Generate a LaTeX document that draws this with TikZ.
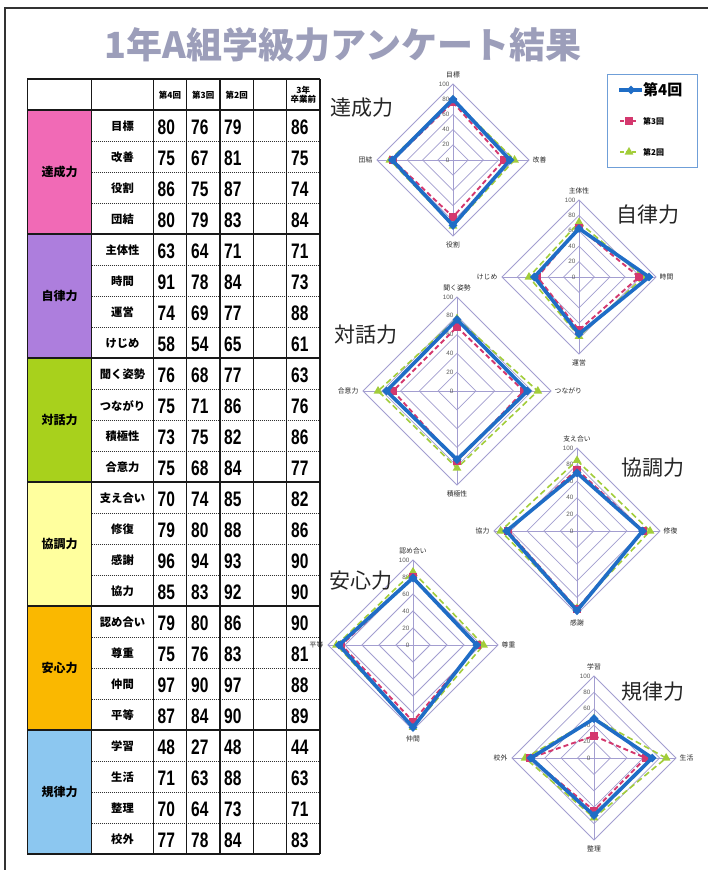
\documentclass[tikz,border=0pt]{standalone}
\usepackage{fontspec}
\newfontfamily\jp{Noto Sans CJK JP}
\newfontfamily\numf[FakeStretch=0.74]{Liberation Sans}
\newfontfamily\lsans{Liberation Sans}
\usetikzlibrary{shapes.geometric}
\definecolor{ttl}{HTML}{9C9EBA}
\definecolor{cpink}{HTML}{F16AB6}
\definecolor{cpurple}{HTML}{AD7EDD}
\definecolor{cgreen}{HTML}{A8D11C}
\definecolor{cyellow}{HTML}{FFFF9E}
\definecolor{corange}{HTML}{FAB800}
\definecolor{cblue}{HTML}{8CC7F0}
\definecolor{gridc}{HTML}{A39ED0}
\definecolor{s4}{HTML}{1F6DC6}
\definecolor{s3}{HTML}{D4386E}
\definecolor{s2}{HTML}{A2CD3A}
\definecolor{lgb}{HTML}{6F9FD8}
\tikzset{
  gridline/.style={draw=gridc, line width=0.75pt},
  scalelbl/.style={anchor=east, inner sep=0.5pt, font=\lsans\fontsize{6.3}{6.3}\selectfont, text=black!65},
  axlbl/.style={inner sep=0.5pt, font=\jp\fontsize{6.8}{6.8}\selectfont, text=black!85},
  ser4/.style={draw=s4, line width=3.6pt, line join=round},
  ser3/.style={draw=s3, line width=1.9pt, dash pattern=on 5pt off 3pt},
  ser2/.style={draw=s2, line width=1.6pt, dash pattern=on 6pt off 3.5pt},
  m4/.style={diamond, aspect=1, fill=s4, inner sep=0pt, minimum size=9pt},
  m3/.style={rectangle, fill=s3, inner sep=0pt, minimum size=7.5pt},
  m2/.style={regular polygon, regular polygon sides=3, fill=s2, inner sep=0pt, minimum size=10pt},
  ctitle/.style={font=\jp\fontsize{21}{21}\selectfont, text=black!85},
  itemlbl/.style={font=\jp\bfseries\fontsize{11.3}{11.3}\selectfont},
  catlbl/.style={font=\jp\bfseries\fontsize{12}{12}\selectfont},
  numlbl/.style={anchor=base west, inner sep=0pt, font=\numf\bfseries\fontsize{21}{21}\selectfont},
  hdrlbl/.style={font=\jp\bfseries\fontsize{8.5}{9.5}\selectfont, align=center},
  tline/.style={line width=1.1pt, black!90},
  dline/.style={line width=0.8pt, black!80, dash pattern=on 1pt off 1pt},
}
\newcommand\rgrid[3]{%
  \foreach \k in {0.2,0.4,0.6,0.8,1} {
    \draw[gridline] ({#1},{#2-#3*\k}) -- ({#1+#3*\k},{#2}) -- ({#1},{#2+#3*\k}) -- ({#1-#3*\k},{#2}) -- cycle;
  }
  \draw[gridline] ({#1},{#2-#3}) -- ({#1},{#2+#3});
  \draw[gridline] ({#1-#3},{#2}) -- ({#1+#3},{#2});
  \foreach \v in {0,20,40,60,80,100} {
    \node[scalelbl] at ({#1-3},{#2-#3*\v/100}) {\v};
  }
}
\newcommand\rser[9]{%
  \draw[#1] ({#3},{#4-#5*#6/100}) -- ({#3+#5*#7/100},{#4}) -- ({#3},{#4+#5*#8/100}) -- ({#3-#5*#9/100},{#4}) -- cycle;
  \node[#2] at ({#3},{#4-#5*#6/100}) {};
  \node[#2] at ({#3+#5*#7/100},{#4}) {};
  \node[#2] at ({#3},{#4+#5*#8/100}) {};
  \node[#2] at ({#3-#5*#9/100},{#4}) {};
}
\newcommand\rlab[7]{%
  \node[axlbl, anchor=south] at ({#1},{#2-#3-5}) {#4};
  \node[axlbl, anchor=west] at ({#1+#3+3},{#2}) {#5};
  \node[axlbl, anchor=north] at ({#1},{#2+#3+5}) {#6};
  \node[axlbl, anchor=east] at ({#1-#3-4},{#2}) {#7};
}
\begin{document}
\begin{tikzpicture}[x=1pt,y=-1pt]
\useasboundingbox (0,0) rectangle (708,870);
\fill[white] (0,0) rectangle (708,870);
\draw[line width=2pt, black!80] (5,870) -- (5,8) -- (708,8);

% title
\node[font=\jp\bfseries\fontsize{36}{36}\selectfont, text=ttl] (title) at (343,45) {1年A組学級力アンケート結果};

% table: category fills
\foreach [count=\g from 0] \cn/\cc in {達成力/cpink,自律力/cpurple,対話力/cgreen,協調力/cyellow,安心力/corange,規律力/cblue} {
  \fill[\cc] (27.3,{110+124*\g}) rectangle (91.7,{110+124*(\g+1)});
  \node[catlbl] at (59.5,{110+124*\g+62}) {\cn};
}
% header
\node[hdrlbl] at (170,95) {第4回};
\node[hdrlbl] at (203.3,95) {第3回};
\node[hdrlbl] at (236.7,95) {第2回};
\node[hdrlbl] at (303.3,95) {3年\\卒業前};
% rows
\foreach [count=\i from 0] \it/\a/\b/\c/\d in {目標/80/76/79/86,改善/75/67/81/75,役割/86/75/87/74,団結/80/79/83/84,主体性/63/64/71/71,時間/91/78/84/73,運営/74/69/77/88,けじめ/58/54/65/61,聞く姿勢/76/68/77/63,つながり/75/71/86/76,積極性/73/75/82/86,合意力/75/68/84/77,支え合い/70/74/85/82,修復/79/80/88/86,感謝/96/94/93/90,協力/85/83/92/90,認め合い/79/80/86/90,尊重/75/76/83/81,仲間/97/90/97/88,平等/87/84/90/89,学習/48/27/48/44,生活/71/63/88/63,整理/70/64/73/71,校外/77/78/84/83} {
  \node[itemlbl] at (122.5,{110+31*\i+16.5}) {\it};
  \node[numlbl] at (157.5,{110+31*\i+24.5}) {\a};
  \node[numlbl] at (191,{110+31*\i+24.5}) {\b};
  \node[numlbl] at (224,{110+31*\i+24.5}) {\c};
  \node[numlbl] at (291,{110+31*\i+24.5}) {\d};
}
% dotted separators
\foreach \i in {1,2,3,5,6,7,9,10,11,13,14,15,17,18,19,21,22,23} {
  \draw[dline] (91.7,{110+31*\i}) -- (320,{110+31*\i});
}
% solid horizontal
\draw[tline] (27.3,79) -- (320,79);
\foreach \g in {0,...,6} {
  \draw[tline] (27.3,{110+124*\g}) -- (320,{110+124*\g});
}
% verticals
\foreach \x in {27.3,91.7,153.3,186.7,220,253.3,286.7,320} {
  \draw[tline] (\x,79) -- (\x,854);
}

% radar 1 達成力
\rgrid{453}{160}{76}
\rser{ser2}{m2}{453}{160}{76}{79}{81}{87}{83}
\rser{ser3}{m3}{453}{160}{76}{76}{67}{75}{79}
\rser{ser4}{m4}{453}{160}{76}{80}{75}{86}{80}
\rlab{453}{160}{76}{目標}{改善}{役割}{団結}
\node[ctitle] (t1) at (362,108) {達成力};

% radar 2 自律力
\rgrid{579}{277}{77}
\rser{ser2}{m2}{579}{277}{77}{71}{84}{77}{65}
\rser{ser3}{m3}{579}{277}{77}{64}{78}{69}{54}
\rser{ser4}{m4}{579}{277}{77}{63}{91}{74}{58}
\rlab{579}{277}{77}{主体性}{時間}{運営}{けじめ}
\node[ctitle] (t2) at (648,215) {自律力};

% radar 3 対話力
\rgrid{457}{391}{94}
\rser{ser2}{m2}{457}{391}{94}{77}{86}{82}{84}
\rser{ser3}{m3}{457}{391}{94}{68}{71}{75}{68}
\rser{ser4}{m4}{457}{391}{94}{76}{75}{73}{75}
\rlab{457}{391}{94}{聞く姿勢}{つながり}{積極性}{合意力}
\node[ctitle] (t3) at (366,335) {対話力};

% radar 4 協調力
\rgrid{577}{531}{83}
\rser{ser2}{m2}{577}{531}{83}{85}{88}{93}{92}
\rser{ser3}{m3}{577}{531}{83}{74}{80}{94}{83}
\rser{ser4}{m4}{577}{531}{83}{70}{79}{96}{85}
\rlab{577}{531}{83}{支え合い}{修復}{感謝}{協力}
\node[ctitle] (t4) at (653,468) {協調力};

% radar 5 安心力
\rgrid{413}{645}{85}
\rser{ser2}{m2}{413}{645}{85}{86}{83}{97}{90}
\rser{ser3}{m3}{413}{645}{85}{80}{76}{90}{84}
\rser{ser4}{m4}{413}{645}{85}{79}{75}{97}{87}
\rlab{413}{645}{85}{認め合い}{尊重}{仲間}{平等}
\node[ctitle] (t5) at (361,581) {安心力};

% radar 6 規律力
\rgrid{594}{758}{82}
\rser{ser2}{m2}{594}{758}{82}{48}{88}{73}{84}
\rser{ser3}{m3}{594}{758}{82}{27}{63}{64}{78}
\rser{ser4}{m4}{594}{758}{82}{48}{71}{70}{77}
\rlab{594}{758}{82}{学習}{生活}{整理}{校外}
\node[ctitle] (t6) at (653,692) {規律力};

% legend
\draw[lgb, line width=0.8pt] (607,74) rectangle (697,167);
\coordinate (l4a) at (619,90); \coordinate (l4b) at (642,90);
\draw[ser4] (l4a) -- (l4b);
\node[m4] (lm4) at (631,90) {};
\node[anchor=west, inner sep=0pt, font=\jp\bfseries\fontsize{15}{15}\selectfont] (lt4) at (643,90) {第4回};
\coordinate (l3a) at (620,121); \coordinate (l3b) at (637,121);
\draw[s3, line width=1.9pt, dash pattern=on 4pt off 2pt] (l3a) -- (l3b);
\node[m3] (lm3) at (629,121) {};
\node[anchor=west, inner sep=0pt, font=\jp\bfseries\fontsize{8}{8}\selectfont] (lt3) at (643,121) {第3回};
\coordinate (l2a) at (620,152); \coordinate (l2b) at (637,152);
\draw[s2, line width=1.6pt, dash pattern=on 4pt off 2pt] (l2a) -- (l2b);
\node[m2] (lm2) at (629,152) {};
\node[anchor=west, inner sep=0pt, font=\jp\bfseries\fontsize{8}{8}\selectfont] (lt2) at (643,152) {第2回};
\end{tikzpicture}
\end{document}
